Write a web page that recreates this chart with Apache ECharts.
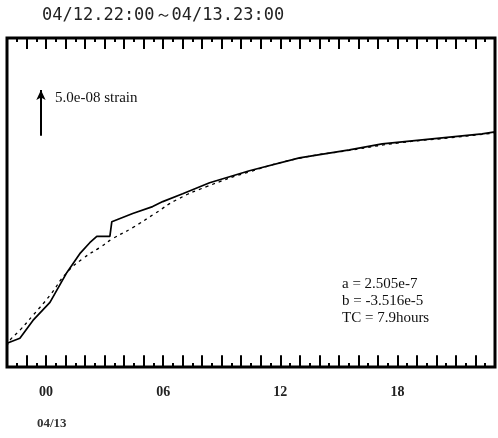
<!DOCTYPE html>
<html>
<head>
<meta charset="utf-8">
<script src="https://cdn.jsdelivr.net/npm/echarts@6/dist/echarts.min.js"></script>
<style>
html, body { margin: 0; padding: 0; background: #fff; }
#echarts { width: 498px; height: 438px; }
</style>
</head>
<body>
<div id="echarts"></div>
<script>
// hours since 04/12 22:00, strain in 1e-9
var obsHours = [0, 0.66, 1.33, 2.2, 3.07, 3.73, 4.24, 4.6, 5.27, 5.37, 5.37, 6.44, 7.46, 7.98, 9.0, 10.38, 12.42, 14.98, 17.54, 19.22, 21.78, 24.34, 25];
var obsStrain = [24, 29.5, 49, 68.7, 101.5, 122, 134, 141, 141, 141, 157, 166, 173.5, 179, 187.6, 199.6, 212.7, 226.9, 235.6, 242.2, 247.6, 253, 255.3];
var fitHours = [0, 0.15, 0.66, 1.33, 2.2, 3.07, 3.89, 4.75, 5.42, 6.44, 7.57, 8.69, 10.22, 12.42, 14.98, 17.54, 20.09, 22.65, 25];
var fitStrain = [20.7, 27.3, 38.2, 54.5, 76.4, 101.5, 116.7, 128.7, 138.5, 150.5, 165.8, 181, 195.3, 211.6, 226.4, 235, 243.3, 248.7, 254.2];
var labelHours = [2, 8, 14, 20];
var labelTexts = ['00', '06', '12', '18'];
var scaleBar = 50;           // 5.0e-08 strain
var scaleBarAt = [1.74, 251];

function pairs(xs, ys) {
    return xs.map(function (x, i) { return [x, ys[i]]; });
}

// ticks axis: step in hours, tick length in px
function tickAxis(pos, step, len, label) {
    return {
        type: 'value',
        min: 0,
        max: 25,
        interval: step,
        position: pos,
        axisLine: { show: false },
        axisTick: {
            show: true,
            inside: true,
            length: len,
            lineStyle: { color: '#000', width: 2 }
        },
        splitLine: { show: false },
        axisLabel: label || { show: false }
    };
}

var myChart = echarts.init(document.getElementById('echarts'));
option = {
    animation: false,
    backgroundColor: '#fff',
    grid: {
        show: true,
        left: 7,
        right: 2,
        top: 38,
        bottom: 71,
        borderColor: '#000',
        borderWidth: 3
    },
    xAxis: [
        tickAxis('bottom', 1, 10, {
            margin: 18,
            color: '#222',
            fontFamily: 'Liberation Serif',
            fontSize: 14,
            fontWeight: 'bold',
            formatter: function (v) {
                var i = labelHours.indexOf(v);
                return i >= 0 ? labelTexts[i] : '';
            }
        }),
        tickAxis('bottom', 0.5, 4),
        tickAxis('top', 1, 11),
        tickAxis('top', 0.5, 4)
    ],
    yAxis: {
        type: 'value',
        min: -2,
        max: 358,
        show: false
    },
    graphic: [
    {
        type: 'text',
        left: 42,
        top: 7,
        style: {
            text: '04/12.22:00～04/13.23:00',
            font: '17px "DejaVu Sans Mono"',
            fill: '#222'
        }
    },
    {
        type: 'text',
        left: 37,
        top: 417,
        style: {
            text: '04/13',
            font: 'bold 13px "Liberation Serif"',
            fill: '#333'
        }
    },
    {
        type: 'text',
        left: 55,
        top: 91,
        style: {
            text: '5.0e-08 strain',
            font: '15px "Liberation Serif"',
            fill: '#111'
        }
    },
    {
        type: 'text',
        left: 342,
        top: 276,
        style: {
            text: 'a = 2.505e-7\nb = -3.516e-5\nTC = 7.9hours',
            font: '15px "Liberation Serif"',
            lineHeight: 17,
            fill: '#111'
        }
    }
    ],
    series: [
    {
        name: 'fit',
        type: 'line',
        smooth: true,
        showSymbol: false,
        data: pairs(fitHours, fitStrain),
        lineStyle: { color: '#000', width: 1.3, type: [3, 4] }
    },
    {
        name: 'strain',
        type: 'line',
        showSymbol: false,
        data: pairs(obsHours, obsStrain),
        lineStyle: { color: '#000', width: 1.7 },
        markLine: {
            silent: true,
            symbol: ['none', 'arrow'],
            symbolSize: [7, 10],
            label: { show: false },
            lineStyle: { color: '#000', width: 2, type: 'solid' },
            data: [[
                { coord: scaleBarAt },
                { coord: [scaleBarAt[0], scaleBarAt[1] + scaleBar] }
            ]]
        }
    }
    ]
};
myChart.setOption(option);
</script>
</body>
</html>
